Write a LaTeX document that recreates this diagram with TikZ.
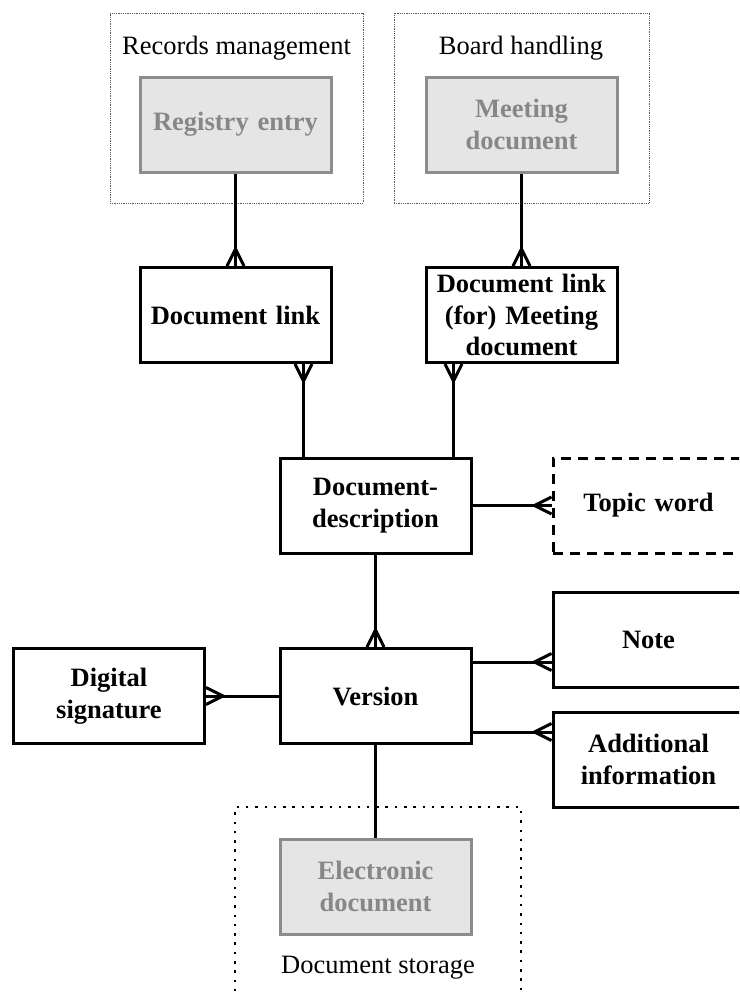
\documentclass[tikz,border=0pt]{standalone}
\usepackage{fontspec}
\setmainfont{Liberation Serif}
\usetikzlibrary{positioning,fit,decorations.markings}

\begin{document}
\begin{tikzpicture}[x=1pt, y=-1pt, node distance=190.5pt,
    font=\fontsize{26.5}{31.5}\selectfont,
    entity/.style={rectangle, draw, line width=3pt, fill=white, minimum width=191pt, minimum height=95pt, text width=185pt, align=center, inner sep=0pt, font=\fontsize{26.5}{31.5}\selectfont\bfseries},
    outside/.style={entity, draw=black!45, fill=black!10, text=black!47},
    optional/.style={entity, dash pattern=on 10pt off 7pt},
    area/.style={draw=black!65, line width=0.8pt, densely dotted, inner sep=0pt},
    store/.style={draw, line width=2pt, dash pattern=on 2.5pt off 6.8pt},
    link/.style={line width=3pt},
    many/.style={link, postaction={decorate, decoration={markings, mark=at position 1 with {\draw[solid, line width=3pt] (0pt,8.5pt) -- (-17pt,0pt) -- (0pt,-8.5pt);}}}}]

    \useasboundingbox (0,0) rectangle (739,993);
    \clip (0,0) rectangle (739,993);

    % outside systems
    \node[area, fit={(110,13) (363,203)}] (recarea) {};
    \node[area, fit={(394,13) (649,203)}] (boardarea) {};
    \draw[store] (235,1010) -- (235,807) -- (521,807) -- (521,1010);
    \node[anchor=base] (reclabel) at (236.5,54) {Records management};
    \node[anchor=base] (boardlabel) at (521,54) {Board handling};
    \node[anchor=base] (storelabel) at (378,973) {Document storage};

    \node[outside] (registry) at (235.5,124.5) {Registry entry};
    \node[outside, right of=registry, node distance=286pt] (meeting) {Meeting\\document};
    \node[outside] (electronic) at (375.5,886.5) {Electronic\\document};

    % entities
    \node[entity, below of=registry] (doclink) {Document link};
    \node[entity, below of=meeting] (meetlink) {Document link\\(for) Meeting\\document};
    \node[entity] (description) at (375.5,505.5) {Document-\\description};
    \node[optional, right of=description, node distance=273pt] (topic) {Topic word};
    \node[entity, below of=description] (version) {Version};
    \node[entity, left of=version, node distance=266.5pt] (signature) {Digital\\signature};
    \node[entity] (note) at (648.5,640) {Note};
    \node[entity] (additional) at (648.5,759.5) {Additional\\information};

    \draw[many] (registry) -- (doclink);
    \draw[many] (meeting) -- (meetlink);
    \draw[many] ([xshift=25pt]description.north west) -- ([xshift=25pt]description.north west |- doclink.south);
    \draw[many] ([xshift=-19pt]description.north east) -- ([xshift=-19pt]description.north east |- meetlink.south);
    \draw[many] (description) -- (topic);
    \draw[many] (description) -- (version);
    \draw[many] (version) -- (signature);
    \draw[many] ([yshift=34pt]version.east) -- ([yshift=34pt]version.east -| note.west);
    \draw[many] ([yshift=-36pt]version.east) -- ([yshift=-36pt]version.east -| additional.west);
    \draw[link] (version) -- (electronic);

\end{tikzpicture}
\end{document}
